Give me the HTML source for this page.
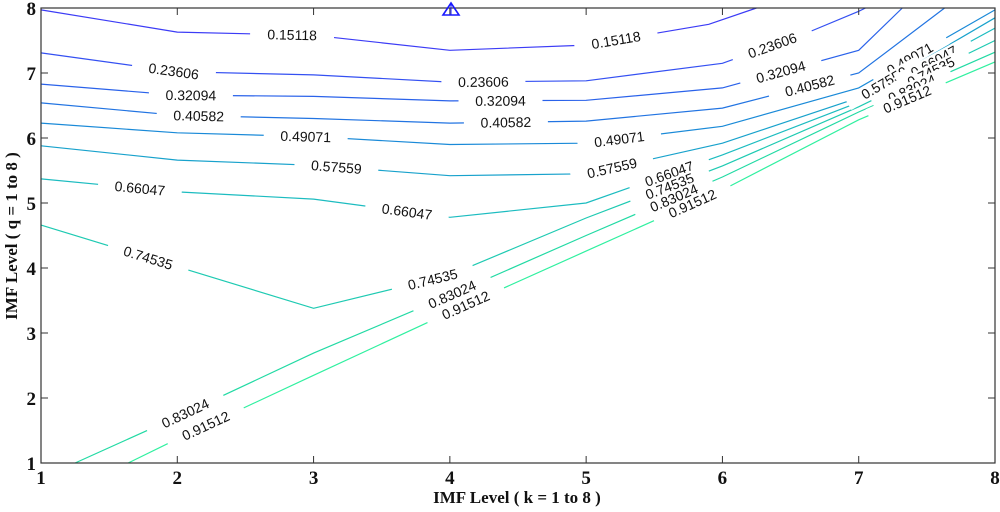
<!DOCTYPE html>
<html><head><meta charset="utf-8"><style>
html,body{margin:0;padding:0;background:#fff;}
svg{display:block;}
.tk{font-family:"Liberation Serif",serif;font-weight:bold;font-size:19px;fill:#111;}
.ttl{font-family:"Liberation Serif",serif;font-weight:bold;font-size:17px;fill:#111;}
.cl{font-family:"Liberation Sans",sans-serif;font-size:14px;fill:#111;}
</style></head><body>
<svg id="chart" width="1000" height="512" viewBox="0 0 1000 512">
<g id="lines"></g>
<g id="labels"></g>
<rect x="41" y="8" width="954" height="455" fill="none" stroke="#333" stroke-width="1.2"/>
<g id="axes"></g>
<polygon points="443,15 451,3 459,15" fill="none" stroke="#1a1aff" stroke-width="1.6"/>
<line x1="451" y1="3" x2="451" y2="15" stroke="#1a1aff" stroke-width="1"/>
<text class="ttl" x="517" y="503" text-anchor="middle">IMF Level ( k = 1 to 8 )</text>
<text class="ttl" x="0" y="0" text-anchor="middle" transform="translate(17,236) rotate(-90)">IMF Level ( q = 1 to 8 )</text>
</svg>
<script>
const levels = ["0.15118","0.23606","0.32094","0.40582","0.49071","0.57559","0.66047","0.74535","0.83024","0.91512"];
const colors = ["#3c3cf6","#3450f2","#2a62ea","#2274e2","#1a8ad8","#18a2cc","#1cbcc0","#1ecab2","#22daa4","#30f0a0"];
const lineK = [
 [1,2,3,4,5,5.9,6.25],
 [1,2,3,4,5,6,6.6,7,7.05],
 [1,2,3,4,5,6,7,7.32],
 [1,2,3,4,5,6,7,7.63],
 [1,2,3,4,5,6,7,8],
 [1,2,3,4,5,6,7,8],
 [1,2,3,4,5,6,7,8],
 [1,2,3,4,5,6,7,8],
 [1.25,2,3,4,5,6,7,8],
 [1.64,2,3,4,5,6,7,8]
];
const lineQ = [
 [7.97,7.63,7.58,7.35,7.43,7.75,8],
 [7.31,7.02,6.97,6.86,6.88,7.15,7.6,7.95,8],
 [6.83,6.66,6.64,6.57,6.58,6.77,7.35,8],
 [6.54,6.35,6.3,6.23,6.26,6.46,7.0,8],
 [6.23,6.08,6.02,5.9,5.92,6.18,6.77,7.97],
 [5.88,5.66,5.58,5.42,5.45,5.92,6.62,7.85],
 [5.37,5.17,5.06,4.78,5.0,5.74,6.55,7.69],
 [4.66,4.02,3.38,3.89,4.77,5.57,6.48,7.5],
 [1,1.71,2.69,3.58,4.5,5.4,6.4,7.32],
 [1,1.37,2.35,3.32,4.26,5.2,6.28,7.17]
];
const labelT = [[0.35,0.8],[0.16,0.53,0.88],[0.17,0.52,0.84],[0.17,0.5,0.83],[0.27,0.59,0.9],[0.3,0.58,0.87],[0.1,0.37,0.64,0.93],[0.11,0.4,0.65,0.93],[0.12,0.41,0.65,0.91],[0.09,0.39,0.65,0.9]];
const xTicks = [1,2,3,4,5,6,7,8];
const yTicks = [1,2,3,4,5,6,7,8];
const X0=41,X1=995,Y0=463,Y1=8;
function sx(k){return X0+(k-1)*(X1-X0)/7;}
function sy(q){return Y0-(q-1)*(Y0-Y1)/7;}
const NS="http://www.w3.org/2000/svg";
const gL=document.getElementById('lines'), gT=document.getElementById('labels'), gA=document.getElementById('axes');
levels.forEach((lv,i)=>{
  const d=lineK[i].map((k,j)=>(j?'L':'M')+sx(k).toFixed(1)+','+sy(lineQ[i][j]).toFixed(1)).join(' ');
  const p=document.createElementNS(NS,'path');
  p.setAttribute('d',d);p.setAttribute('fill','none');p.setAttribute('stroke',colors[i]);p.setAttribute('stroke-width','1.2');
  
  
  gL.appendChild(p);
  const L=p.getTotalLength();
  labelT[i].forEach(t=>{
    const a=p.getPointAtLength(L*t), b=p.getPointAtLength(Math.min(L,L*t+3)), c=p.getPointAtLength(Math.max(0,L*t-3));
    const ang=Math.atan2(b.y-c.y,b.x-c.x)*180/Math.PI;
    const g=document.createElementNS(NS,'g');
    g.setAttribute('transform','translate('+a.x.toFixed(1)+','+a.y.toFixed(1)+') rotate('+ang.toFixed(1)+')');
    
    
    const r=document.createElementNS(NS,'rect');
    r.setAttribute('x','-42');r.setAttribute('y','-7');r.setAttribute('width','84');r.setAttribute('height','14');r.setAttribute('fill','#fff');
    g.appendChild(r);
    const tx=document.createElementNS(NS,'text');
    tx.setAttribute('class','cl');tx.setAttribute('text-anchor','middle');tx.setAttribute('y','5');tx.textContent=lv;
    g.appendChild(tx);
    gT.appendChild(g);
  });
});
xTicks.forEach(k=>{
  const x=sx(k);
  const l1=document.createElementNS(NS,'path');
  l1.setAttribute('d','M'+x+','+Y0+'V'+(Y0-7)+'M'+x+','+Y1+'V'+(Y1+7));l1.setAttribute('stroke','#333');
  
  
  gA.appendChild(l1);
  const t=document.createElementNS(NS,'text');
  t.setAttribute('class','tk');t.setAttribute('x',x);t.setAttribute('y','484');t.setAttribute('text-anchor','middle');t.textContent=k;
  
  
  gA.appendChild(t);
});
yTicks.forEach(q=>{
  const y=sy(q);
  const l1=document.createElementNS(NS,'path');
  l1.setAttribute('d','M'+X0+','+y+'H'+(X0+7)+'M'+X1+','+y+'H'+(X1-7));l1.setAttribute('stroke','#333');
  
  
  gA.appendChild(l1);
  const t=document.createElementNS(NS,'text');
  t.setAttribute('class','tk');t.setAttribute('x','36');t.setAttribute('y',y+7);t.setAttribute('text-anchor','end');t.textContent=q;
  
  
  gA.appendChild(t);
});
</script>
</body></html>
